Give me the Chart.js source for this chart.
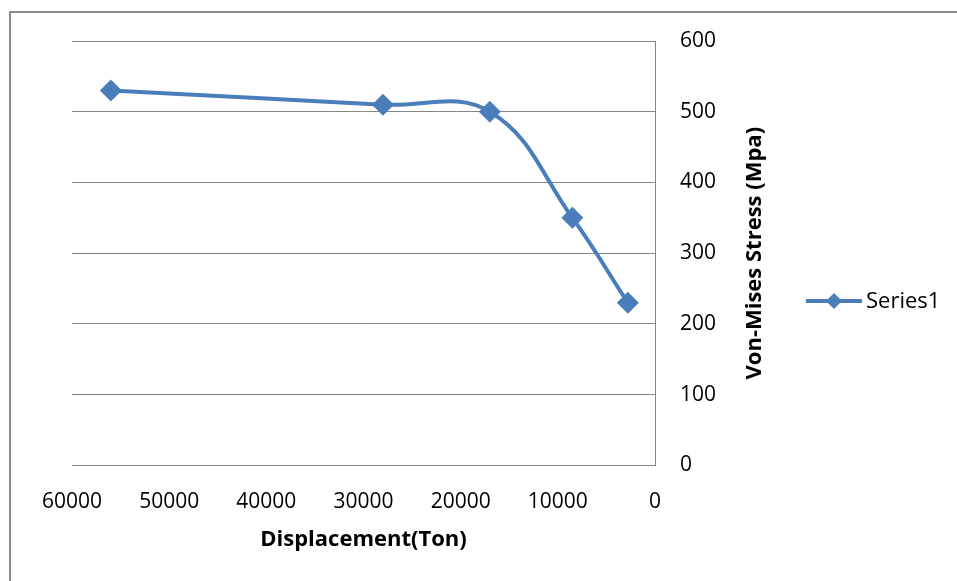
<!DOCTYPE html>
<html>
<head>
<meta charset="utf-8">
<script src="https://cdn.jsdelivr.net/npm/chart.js@4/dist/chart.umd.min.js"></script>
<style>
  html, body { margin: 0; padding: 0; background: #fff; }
  #wrap { position: relative; width: 957px; height: 581px; overflow: hidden; }
  #frame {
    position: absolute; left: 9px; top: 11px; width: 1000px; height: 700px;
    border-top: 2px solid #8c8c8c; border-left: 2px solid #8c8c8c;
  }
  canvas { position: absolute; left: 0; top: 0; }
</style>
</head>
<body>
<div id="wrap">
  <div id="frame"></div>
  <canvas id="chart" width="957" height="581"></canvas>
</div>
<script>
// ── Data ─────────────────────────────────────────────────────
const displacement = [56000, 28000, 17000, 8500, 2800];   // Ton
const stress       = [530, 510, 500, 350, 230];           // Mpa
const xTickValues  = [0, 10000, 20000, 30000, 40000, 50000, 60000];
const yTickValues  = [0, 100, 200, 300, 400, 500, 600];
const seriesName   = 'Series1';
const xTitle       = 'Displacement(Ton)';
const yTitle       = 'Von-Mises Stress (Mpa)';

const BLUE = '#4a7ebb';
const GRID = '#868686';
const FONT = "'Open Sans', 'Noto Sans', sans-serif";

// ── Extras: rotated y title + legend (Excel style) ──────────
const extras = {
  id: 'extras',
  afterDraw(chart) {
    const ctx = chart.ctx;
    const area = chart.chartArea;
    const yScale = chart.scales.y;
    ctx.save();

    // y axis title, reads bottom-to-top
    ctx.font = `bold 22px ${FONT}`;
    ctx.fillStyle = '#000';
    ctx.textAlign = 'center';
    ctx.textBaseline = 'middle';
    ctx.translate(yScale.right - 35, (area.top + area.bottom) / 2);
    ctx.rotate(-Math.PI / 2);
    ctx.fillText(yTitle, 0, 0);
    ctx.setTransform(1, 0, 0, 1, 0, 0);

    // legend
    const ly = 301;
    ctx.strokeStyle = BLUE;
    ctx.lineWidth = 4;
    ctx.beginPath();
    ctx.moveTo(806, ly);
    ctx.lineTo(862, ly);
    ctx.stroke();
    ctx.fillStyle = BLUE;
    ctx.beginPath();
    ctx.moveTo(834, ly - 8);
    ctx.lineTo(842, ly);
    ctx.lineTo(834, ly + 8);
    ctx.lineTo(826, ly);
    ctx.closePath();
    ctx.fill();
    ctx.font = `22px ${FONT}`;
    ctx.fillStyle = '#000';
    ctx.textAlign = 'left';
    ctx.textBaseline = 'middle';
    ctx.fillText(seriesName, 866, ly + 1);

    ctx.restore();
  }
};

// ── Chart ────────────────────────────────────────────────────
new Chart(document.getElementById('chart').getContext('2d'), {
  type: 'line',
  data: {
    datasets: [{
      label: seriesName,
      data: displacement.map((d, i) => ({ x: d, y: stress[i] })),
      borderColor: BLUE,
      backgroundColor: BLUE,
      borderWidth: 4,
      tension: 0.4,
      pointStyle: 'rectRot',
      pointRadius: 11,
      pointBorderWidth: 0,
      pointBackgroundColor: BLUE,
      fill: false,
    }]
  },
  options: {
    responsive: false,
    animation: false,
    devicePixelRatio: 1,
    layout: { padding: { left: 72, top: 41, right: 167, bottom: 28 } },
    plugins: {
      legend: { display: false },
      tooltip: { enabled: false },
    },
    scales: {
      x: {
        type: 'linear',
        position: 'bottom',
        reverse: true,
        min: 0,
        max: 60000,
        afterBuildTicks: s => { s.ticks = xTickValues.map(v => ({ value: v })); },
        grid: { display: false, drawTicks: false },
        border: { display: false },
        ticks: {
          color: '#000',
          font: { family: FONT, size: 21 },
          padding: 24,
          maxRotation: 0,
          autoSkip: false,
          callback: v => String(v),
        },
        title: {
          display: true,
          text: xTitle,
          color: '#000',
          font: { family: FONT, size: 22, weight: 'bold' },
          padding: { top: -12, bottom: 0 },
        },
      },
      y: {
        type: 'linear',
        position: 'right',
        min: 0,
        max: 600,
        afterBuildTicks: s => { s.ticks = yTickValues.map(v => ({ value: v })); },
        afterFit: s => { s.width = 135; },
        grid: { color: GRID, lineWidth: 1, drawTicks: false },
        border: { display: true, color: GRID, width: 1 },
        ticks: {
          color: '#000',
          font: { family: FONT, size: 21 },
          padding: 25,
          callback: v => String(v),
        },
      },
    },
  },
  plugins: [extras],
});
</script>
</body>
</html>
